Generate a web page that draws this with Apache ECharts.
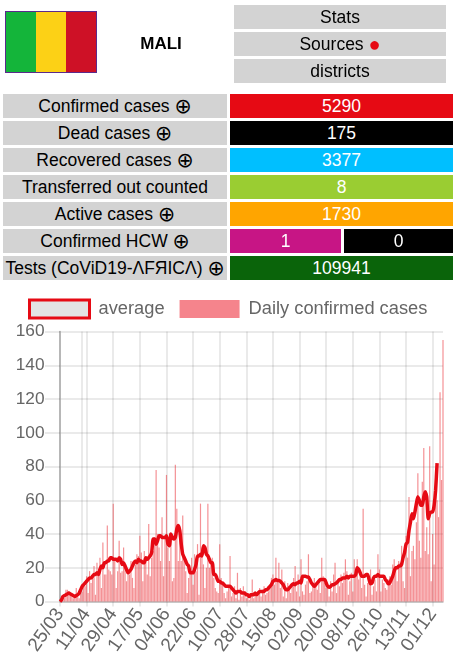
<!DOCTYPE html>
<html><head><meta charset="utf-8">
<script src="https://cdn.jsdelivr.net/npm/echarts@6/dist/echarts.min.js"></script>
<style>
html,body{margin:0;padding:0;background:#fff;width:453px;height:658px;overflow:hidden;font-family:"Liberation Sans",Arial,sans-serif;}
#chart{position:absolute;left:0;top:0;width:453px;height:658px;}
.c{position:absolute;height:24px;line-height:24px;text-align:center;font-size:17.5px;color:#000;white-space:nowrap;background:#d3d3d3;}
.v{color:#fff;}
.o{font-family:"DejaVu Sans";font-size:20.5px;line-height:20px;vertical-align:-1px;}
#flag{position:absolute;left:5px;top:11px;width:90px;height:60px;border:1px solid #5b2a8c;display:flex;}
#flag div{flex:1;}
#name{position:absolute;left:125px;width:72px;top:34px;line-height:20px;text-align:center;font-weight:bold;font-size:17px;}
</style></head><body>
<div id="chart"></div>
<div id="flag"></div>
<div id="name"></div>
<div id="table"></div>
<script>
var countryName = "MALI";
var flagColors = ["#14B53A", "#FCD116", "#CE1126"];
var menuItems = ["Stats", "Sources <span style='color:#e60a14;font-size:20px;line-height:20px;vertical-align:-1px'>●</span>", "districts"];
var rowLabels = ["Confirmed cases ⊕", "Dead cases ⊕", "Recovered cases ⊕", "Transferred out counted", "Active cases ⊕", "Confirmed HCW ⊕", "Tests (CoViD19-ΛFЯICΛ) ⊕"];
var rowValues = ["5290", "175", "3377", "8", "1730", "1", "109941"];
var rowColors = ["#e60a14", "#000000", "#00bfff", "#9acd32", "#ffa500", "#c71585", "#0a640a"];
var hcwSecond = "0";

var legendNames = ["average", "Daily confirmed cases"];
var yTicks = [0, 20, 40, 60, 80, 100, 120, 140, 160];

var daily = [
0,1,3,2,7,7,6,5,3,2,
4,8,3,2,5,6,10,9,15,5,
18,11,14,21,4,23,16,26,8,35,
16,16,45,19,18,16,58,25,8,18,
36,17,18,32,22,12,18,16,24,14,
8,22,28,27,39,29,12,30,24,16,
46,15,26,30,38,78,40,32,24,50,
15,38,75,32,24,36,12,14,81,55,
24,38,24,51,28,18,5,14,20,26,
10,28,18,34,4,58,30,22,8,20,
58,20,25,26,14,8,6,5,34,14,
10,5,2,6,9,27,3,5,9,2,
17,1,8,3,9,6,2,3,1,5,
13,2,4,3,5,8,3,7,9,4,5,
6,8,14,16,10,26,12,23,8,19,
3,12,2,11,8,5,9,14,21,6,
16,3,25,6,4,10,12,28,5,6,
11,14,9,7,13,5,26,15,11,8,
9,3,12,6,16,23,5,12,9,16,
11,17,25,18,4,12,17,6,25,15,
25,13,17,8,55,10,3,11,15,19,
4,9,13,6,28,19,6,13,11,8,
7,13,15,10,22,25,19,12,24,23,
33,12,8,39,26,62,15,30,33,25,
47,76,36,26,71,91,30,44,28,92,
12,40,22,75,60,50,124,72,155
];
var average = [
0,1,3,3.5,4,4.5,5,4.5,4,3.5,
3,3.5,4,5,7,9,10,11,12,13,
14,14,15,16,16,17,16,19,21,20,
23,23,24,24,26,26,25,25,25,24,
26,25,22,23,21,19,17,18,19,21,
23,24,23,25,24,24,23,23,26,25,
26,27,29,37,37,34,36,39,39,38,
38,38,39,34,33,40,38,37,38,43,
45,42,34,28,26,24,22,21,17,17,
17,19,22,27,27,28,27,33,32,28,
27,25,23,23,16,16,14,12,12,11,
11,10,9,9,9,9,8,7,6,5,
6,6,6,5,5,5,4,4,3,4,
4,4,5,4,5,6,6,6,6,7,7,
8,9,10,12,12.5,13,12.5,12.5,12,11,
10,8,7,7,8,9,10,10.5,10,11,
11,12,11,15,15,15,14.5,14.5,13,11,
10,9,10,11,12,13,13,13,13,11,
9,8.5,9,10,10,10.5,11,12,13,13,
14,14,14,15,14,15,15,15,15,16,
20,19,17,15,15,15,16,16,13,10.5,
11,14,15,15,16,15,15,15,15,13,
12,10.5,11,13,15,18,20,20,21,21,
22,26,29,34,35,42,47,52,49,53,
58,62,60,57,57,62,65,62,49,52,
53,53,57,66,82
];

// date labels: the source series skips one calendar day around index 15
var categories = daily.map(function (_, i) {
  var d = new Date(2020, 2, 25 + i - (i >= 15 ? 1 : 0));
  var dd = d.getDate(), mm = d.getMonth() + 1;
  return (dd < 10 ? "0" : "") + dd + "/" + (mm < 10 ? "0" : "") + mm;
});

// ---- header and table ----
flagColors.forEach(function (c) {
  var d = document.createElement("div"); d.style.background = c;
  document.getElementById("flag").appendChild(d);
});
document.getElementById("name").textContent = countryName;
var table = document.getElementById("table");
function cell(x, y, w, html, bg, cls) {
  var d = document.createElement("div");
  d.className = "c" + (cls ? " " + cls : "");
  d.style.left = x + "px"; d.style.top = y + "px"; d.style.width = w + "px";
  if (bg) d.style.background = bg;
  d.innerHTML = html.replace("⊕", "<span class='o'>⊕</span>");
  table.appendChild(d);
}
menuItems.forEach(function (m, i) { cell(234, 5 + 27 * i, 212, m); });
rowLabels.forEach(function (l, i) {
  var y = 94 + 27 * i;
  cell(3, y, 224, l);
  if (i === 5) {
    cell(230, y, 111, rowValues[i], rowColors[i], "v");
    cell(344, y, 109, hcwSecond, "#000", "v");
  } else {
    cell(230, y, 223, rowValues[i], rowColors[i], "v");
  }
});

// ---- chart ----
var chart = echarts.init(document.getElementById("chart"), null, { renderer: "canvas" });
var gridColor = "rgba(0,0,0,0.11)";
chart.setOption({
  animation: false,
  textStyle: { fontFamily: "Liberation Sans" },
  legend: {
    left: 28, top: 298.5, padding: 0, itemWidth: 60, itemHeight: 18, itemGap: 15,
    textStyle: { fontSize: 18.3, color: "#666", padding: [0, 0, 0, 4] },
    data: [
      { name: legendNames[0], icon: "rect", itemStyle: { color: "#e3e3e3", borderColor: "#e60a14", borderWidth: 3 }, lineStyle: { width: 0 } },
      { name: legendNames[1], icon: "rect", itemStyle: { color: "#f5848c", borderWidth: 0 } }
    ]
  },
  grid: { left: 60, right: 10, top: 331.5, height: 270, containLabel: false },
  xAxis: {
    type: "category", data: categories, boundaryGap: false,
    axisLine: { show: true, lineStyle: { color: "#bdbdbd", width: 1.5 } },
    axisTick: { show: true, length: 5, interval: function (i) { return i % 18 === 0; }, lineStyle: { color: gridColor, width: 1.5 } },
    axisLabel: {
      interval: function (i) { return i % 18 === 0; },
      rotate: 55, fontSize: 19, color: "#666", margin: 9, hideOverlap: false
    },
    splitLine: { show: true, interval: function (i) { return i % 18 === 0 || i === 15; }, lineStyle: { color: gridColor, width: 1.5 } }
  },
  yAxis: {
    type: "value", min: yTicks[0], max: yTicks[yTicks.length - 1], interval: 20,
    axisLine: { show: true, lineStyle: { color: "#a6a6a6", width: 1.5 } },
    axisTick: { show: true, length: 15, lineStyle: { color: gridColor, width: 1.5 } },
    axisLabel: { fontSize: 17.3, color: "#666", margin: 15.5 },
    splitLine: { show: true, lineStyle: { color: gridColor, width: 1.5 } }
  },
  series: [
    { name: legendNames[1], type: "bar", data: daily, barWidth: 1.2, clip: false, itemStyle: { color: "rgba(230,10,20,0.45)" }, z: 2 },
    { name: legendNames[0], type: "line", data: average, showSymbol: false, smooth: 0.2, clip: false,
      lineStyle: { color: "#e60a14", width: 3.5 }, itemStyle: { color: "#e60a14" }, z: 3 }
  ]
});
</script>
</body></html>
